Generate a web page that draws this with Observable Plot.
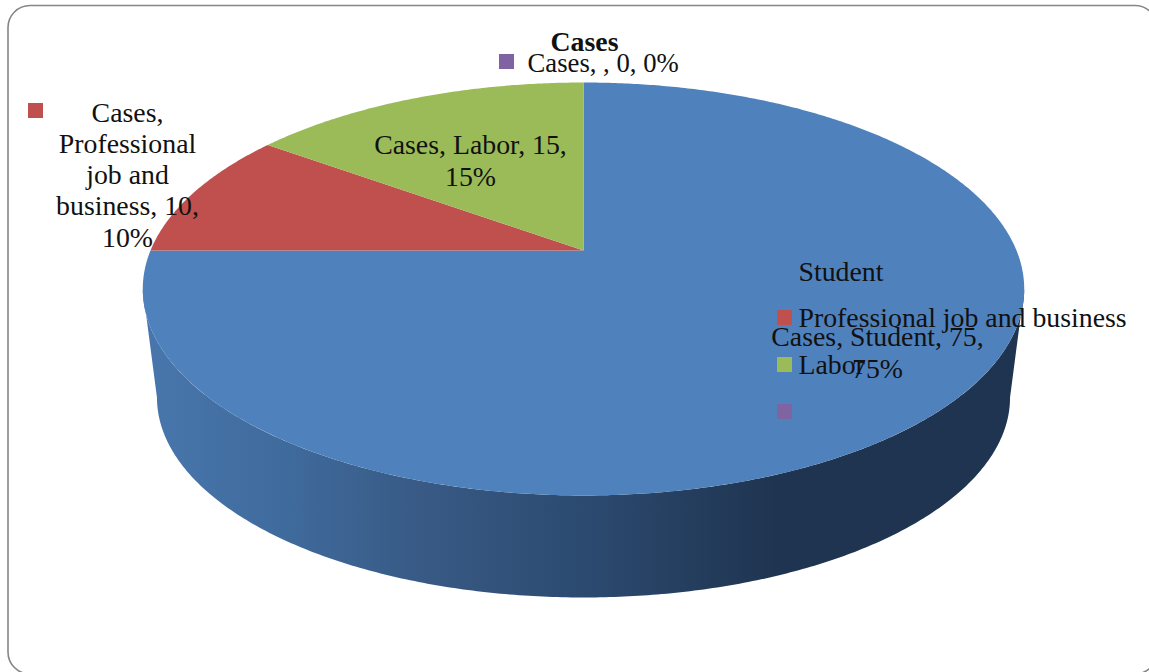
<!DOCTYPE html>
<html>
<head>
<meta charset="utf-8">
<script src="https://cdn.jsdelivr.net/npm/d3@7"></script>
<script src="https://cdn.jsdelivr.net/npm/@observablehq/plot@0.6"></script>
<style>
html,body{margin:0;padding:0;background:#fff;overflow:hidden}
svg{display:block}
</style>
</head>
<body>
<div id="chart"></div>
<script>
const chartTitle = "Cases";
const seriesName = "Cases";
const categories = ["Student", "Professional job and business", "Labor", ""];
const values = [75, 10, 15, 0];
const percents = ["75%", "10%", "15%", "0%"];
const colors = ["#4f81bd", "#c0504d", "#9bbb59", "#8064a2"];

const W = 1149, H = 672;
const font = "Liberation Serif";
const fontSize = 27.8;
const ink = "#111";

// perspective view of the pie disc
const topDisc = {cx: 583, cy: 250, a: 433, b: 199.3, k: 0.1864};
const baseDisc = {cx: 583, cy: 347, a: 413, b: 187.5, k: 0.25};
function project(d, t) {
  const u = Math.sin(t), v = Math.cos(t), w = 1 + d.k * v;
  return {x: d.cx + d.a * u / w, y: d.cy - d.b * v / w};
}
const rad = Math.PI / 180;
function arc(d, a0, a1) {
  const n = Math.max(2, Math.ceil(Math.abs(a1 - a0) / (0.5 * rad)));
  return d3.range(n + 1).map(i => project(d, a0 + (a1 - a0) * i / n));
}

// top faces, from the values
const arcs = d3.pie().sort(null)(values);
const slicePoints = arcs.flatMap((p, i) => {
  const c = {x: topDisc.cx, y: topDisc.cy};
  return [c, ...arc(topDisc, p.startAngle, p.endAngle), c].map(q => ({...q, category: categories[i]}));
});

// extruded wall of the front half
const topTangent = Math.acos(-topDisc.k);
const baseTangent = Math.acos(-baseDisc.k);
const wall = [
  ...arc(topDisc, topTangent, 2 * Math.PI - topTangent),
  ...arc(baseDisc, 2 * Math.PI - baseTangent, baseTangent)
];
wall.push(wall[0]);

const shade = () => d3.create("svg:defs").html(`
  <linearGradient id="sideShade" gradientUnits="userSpaceOnUse" x1="150" x2="1020" y1="0" y2="0">
    <stop offset="0" stop-color="#4876ac"/>
    <stop offset="0.16" stop-color="#3f6a9c"/>
    <stop offset="0.31" stop-color="#385a85"/>
    <stop offset="0.5" stop-color="#2c4a70"/>
    <stop offset="0.72" stop-color="#1f3450"/>
    <stop offset="1" stop-color="#1f3450"/>
  </linearGradient>`).node();

// text placement
const legendText = [
  {text: categories[0], y: 280},
  {text: categories[1], y: 326},
  {text: categories[2], y: 373}
];
const legendKeys = [
  {category: categories[0], y: 271},
  {category: categories[1], y: 317},
  {category: categories[2], y: 364},
  {category: categories[3], y: 411}
];
const dataLabels = [
  {text: `${seriesName}, ${categories[0]}, ${values[0]},\n${percents[0]}`, x: 877, y: 377, anchor: "middle"},
  {text: `${seriesName},\nProfessional\njob and\nbusiness, ${values[1]},\n${percents[1]}`, x: 127, y: 246, anchor: "middle"},
  {text: `${seriesName}, ${categories[2]}, ${values[2]},\n${percents[2]}`, x: 470, y: 185, anchor: "middle"},
  {text: `${seriesName}, , ${values[3]}, ${percents[3]}`, x: 527, y: 71, anchor: "start"}
];
const dataKeys = [
  {category: categories[1], x: 35, y: 110},
  {category: categories[2], x: 356, y: 145},
  {category: categories[3], x: 506, y: 61}
];

const textBase = {fontFamily: font, fontSize, fill: ink, lineAnchor: "bottom", lineHeight: 1.12};

const plot = Plot.plot({
  width: W, height: H,
  margin: 0,
  x: {domain: [0, W], range: [0, W], axis: null},
  y: {domain: [0, H], range: [0, H], axis: null},
  color: {domain: categories, range: colors},
  marks: [
    shade,
    Plot.rect([{}], {x1: () => 8, x2: () => 1157, y1: () => 5.5, y2: () => 674, rx: 22, fill: "none", stroke: "#868686", strokeWidth: 1.6}),
    Plot.line(wall, {x: "x", y: "y", fill: "url(#sideShade)", stroke: "none", curve: "linear"}),
    Plot.line(slicePoints, {x: "x", y: "y", z: "category", fill: "category", stroke: "none", curve: "linear"}),
    Plot.dot(legendKeys, {x: () => 784, y: "y", fill: "category", symbol: "square", r: 8.46}),
    Plot.dot(dataKeys, {x: "x", y: "y", fill: "category", symbol: "square", r: 8.46}),
    Plot.text(legendText, {...textBase, x: () => 798, y: "y", text: "text", textAnchor: "start"}),
    Plot.text(dataLabels.filter(d => d.anchor === "middle"), {...textBase, x: "x", y: "y", text: "text", textAnchor: "middle"}),
    Plot.text(dataLabels.filter(d => d.anchor === "start"), {...textBase, fontSize: 26.7, x: "x", y: "y", text: "text", textAnchor: "start"}),
    Plot.text([chartTitle], {...textBase, x: () => 584, y: () => 50, text: d => d, fontWeight: "bold", textAnchor: "middle"})
  ]
});
document.getElementById("chart").append(plot);
</script>
</body>
</html>
